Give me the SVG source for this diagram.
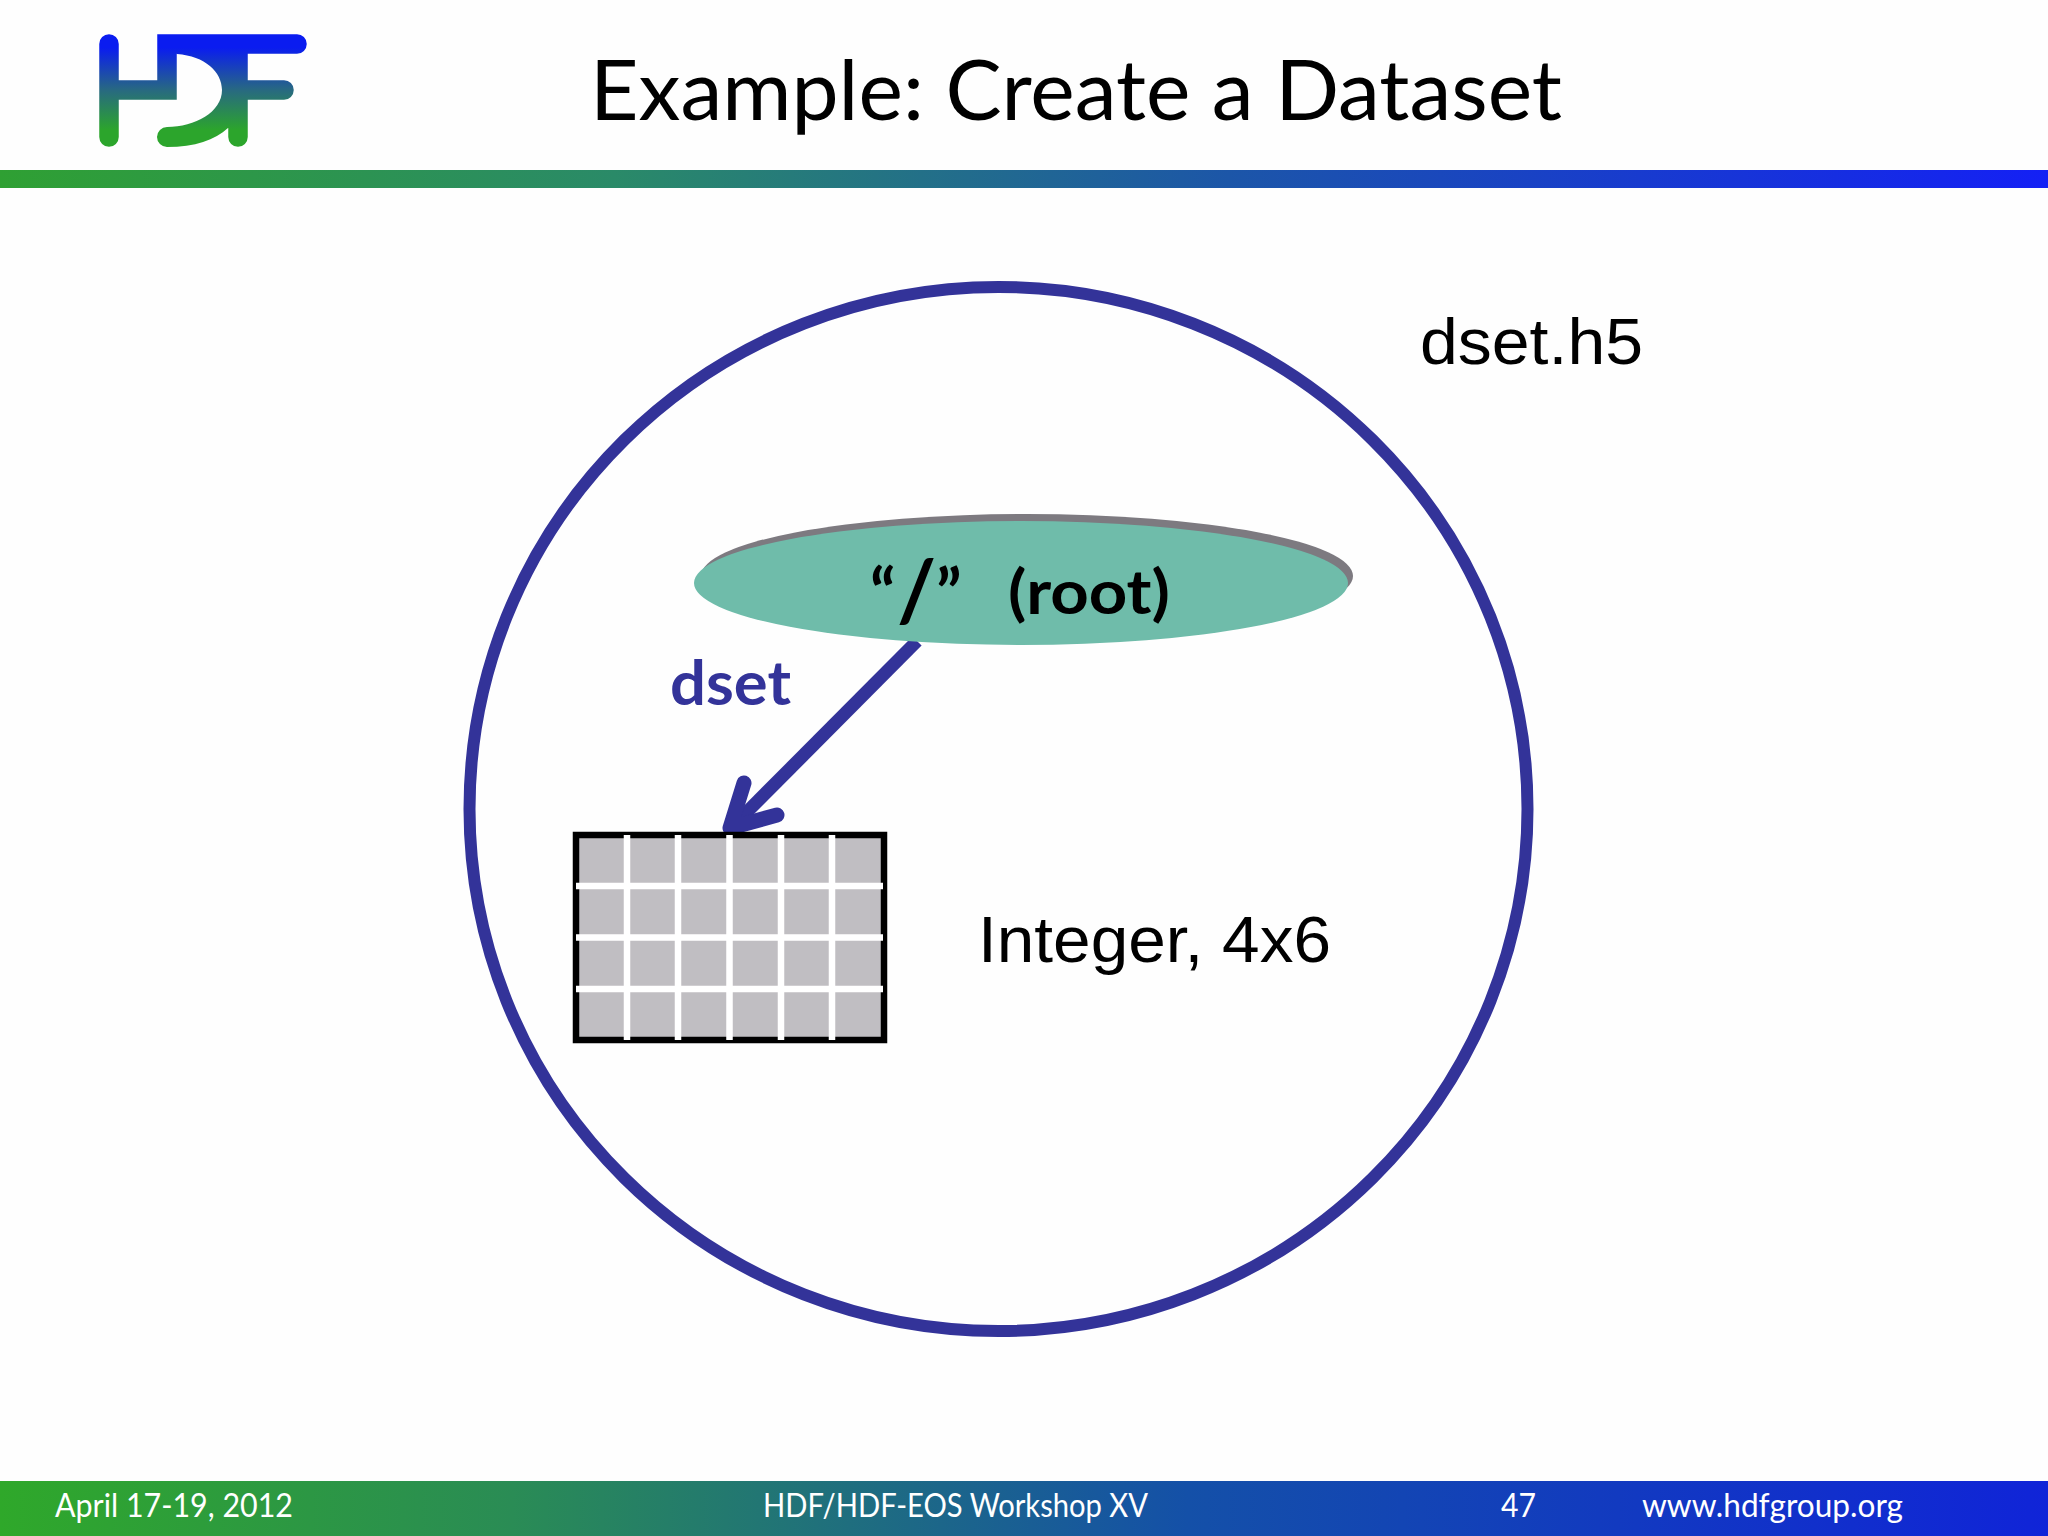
<svg xmlns="http://www.w3.org/2000/svg" width="2048" height="1536" viewBox="0 0 2048 1536">
<style>
.cal{font-family:"Lato","Carlito","Open Sans",sans-serif}
.ar{font-family:"Liberation Sans",Arial,sans-serif;font-size:65px;fill:#000}
.ft{font-family:"Lato","Open Sans",sans-serif;font-size:32px;fill:#fff}
.gl{stroke:#fff;stroke-width:6.5;fill:none}
.lb{stroke:url(#logo);stroke-width:19.5;stroke-linecap:round;fill:none}
</style>
<defs>
<linearGradient id="bar" gradientUnits="userSpaceOnUse" x1="0" y1="0" x2="2048" y2="0">
<stop offset="0" stop-color="#2fa033"/><stop offset="0.3" stop-color="#2a8a68"/><stop offset="0.6" stop-color="#1c56a8"/><stop offset="1" stop-color="#1420f5"/>
</linearGradient>
<linearGradient id="foot" gradientUnits="userSpaceOnUse" x1="0" y1="0" x2="2048" y2="0">
<stop offset="0" stop-color="#2fa82a"/><stop offset="0.25" stop-color="#2a8c55"/><stop offset="0.58" stop-color="#1450a8"/><stop offset="1" stop-color="#1024d8"/>
</linearGradient>
<linearGradient id="logo" gradientUnits="userSpaceOnUse" x1="0" y1="34" x2="0" y2="147">
<stop offset="0.12" stop-color="#0a1cf0"/><stop offset="0.5" stop-color="#286a80"/><stop offset="0.85" stop-color="#2ca52c"/>
</linearGradient>
</defs>
<rect id="background" width="2048" height="1536" fill="#fefefe"/>
<g id="logo-mark">
<path class="lb" d="M109 44V137M109 90H167V44H297M238 44V137M238 90H284"/>
<path fill="url(#logo)" d="M167 53H238V128H228C215 140 195 147 167 147A10 10 0 0 1 167 127C195 127 222 112 222 90C222 72 205 56 177 54V53Z"/>
</g>
<rect id="header-bar" x="0" y="170" width="2048" height="18" fill="url(#bar)"/>
<text id="title" class="cal" x="590" y="120" font-size="83" fill="#000" textLength="972" lengthAdjust="spacingAndGlyphs">Example: Create a Dataset</text>
<g id="file">
<ellipse cx="998.5" cy="809" rx="529" ry="522" fill="#fefefe" stroke="#333399" stroke-width="12"/>
<text class="ar" x="1420" y="364" textLength="223" lengthAdjust="spacingAndGlyphs">dset.h5</text>
</g>
<g id="connectors">
<g fill="none" stroke="#333399" stroke-linecap="round" stroke-linejoin="round">
<path d="M917 641L729 830" stroke-width="13" stroke-linecap="butt"/>
<path d="M744 783L730 828L777 815" stroke-width="15"/>
</g>
<text class="cal" x="670" y="705" font-size="62" font-weight="700" fill="#333399" textLength="121" lengthAdjust="spacingAndGlyphs">dset</text>
</g>
<g id="root">
<ellipse cx="1027" cy="576" rx="326" ry="62" fill="#7d7a80"/>
<ellipse cx="1021" cy="583" rx="327" ry="62" fill="#6fbcaa"/>
<text class="cal" font-size="66" font-weight="700" fill="#000"><tspan x="870" y="617">“</tspan><tspan x="897" y="621" font-size="84">/</tspan><tspan x="936" y="617">”</tspan></text>
<text class="cal" x="1008" y="614" font-size="62" font-weight="700" fill="#000" textLength="162" lengthAdjust="spacingAndGlyphs">(root)</text>
</g>
<g id="dataset">
<rect x="576" y="835" width="308" height="205" fill="#c0bec2" stroke="#000" stroke-width="6.5"/>
<path class="gl" d="M627 835V1040M678 835V1040M729.5 835V1040M781 835V1040M832 835V1040M576 886H883M576 937.5H883M576 989H883"/>
<text class="ar" x="978" y="962" textLength="353" lengthAdjust="spacingAndGlyphs">Integer, 4x6</text>
</g>
<g id="footer">
<rect x="0" y="1481" width="2048" height="55" fill="url(#foot)"/>
<text class="ft" x="55" y="1517" textLength="238" lengthAdjust="spacingAndGlyphs">April 17-19, 2012</text>
<text class="ft" x="763" y="1517" textLength="385" lengthAdjust="spacingAndGlyphs">HDF/HDF-EOS Workshop XV</text>
<text class="ft" x="1501" y="1517" textLength="35" lengthAdjust="spacingAndGlyphs">47</text>
<text class="ft" x="1642" y="1517" textLength="261" lengthAdjust="spacingAndGlyphs">www.hdfgroup.org</text>
</g>
</svg>
